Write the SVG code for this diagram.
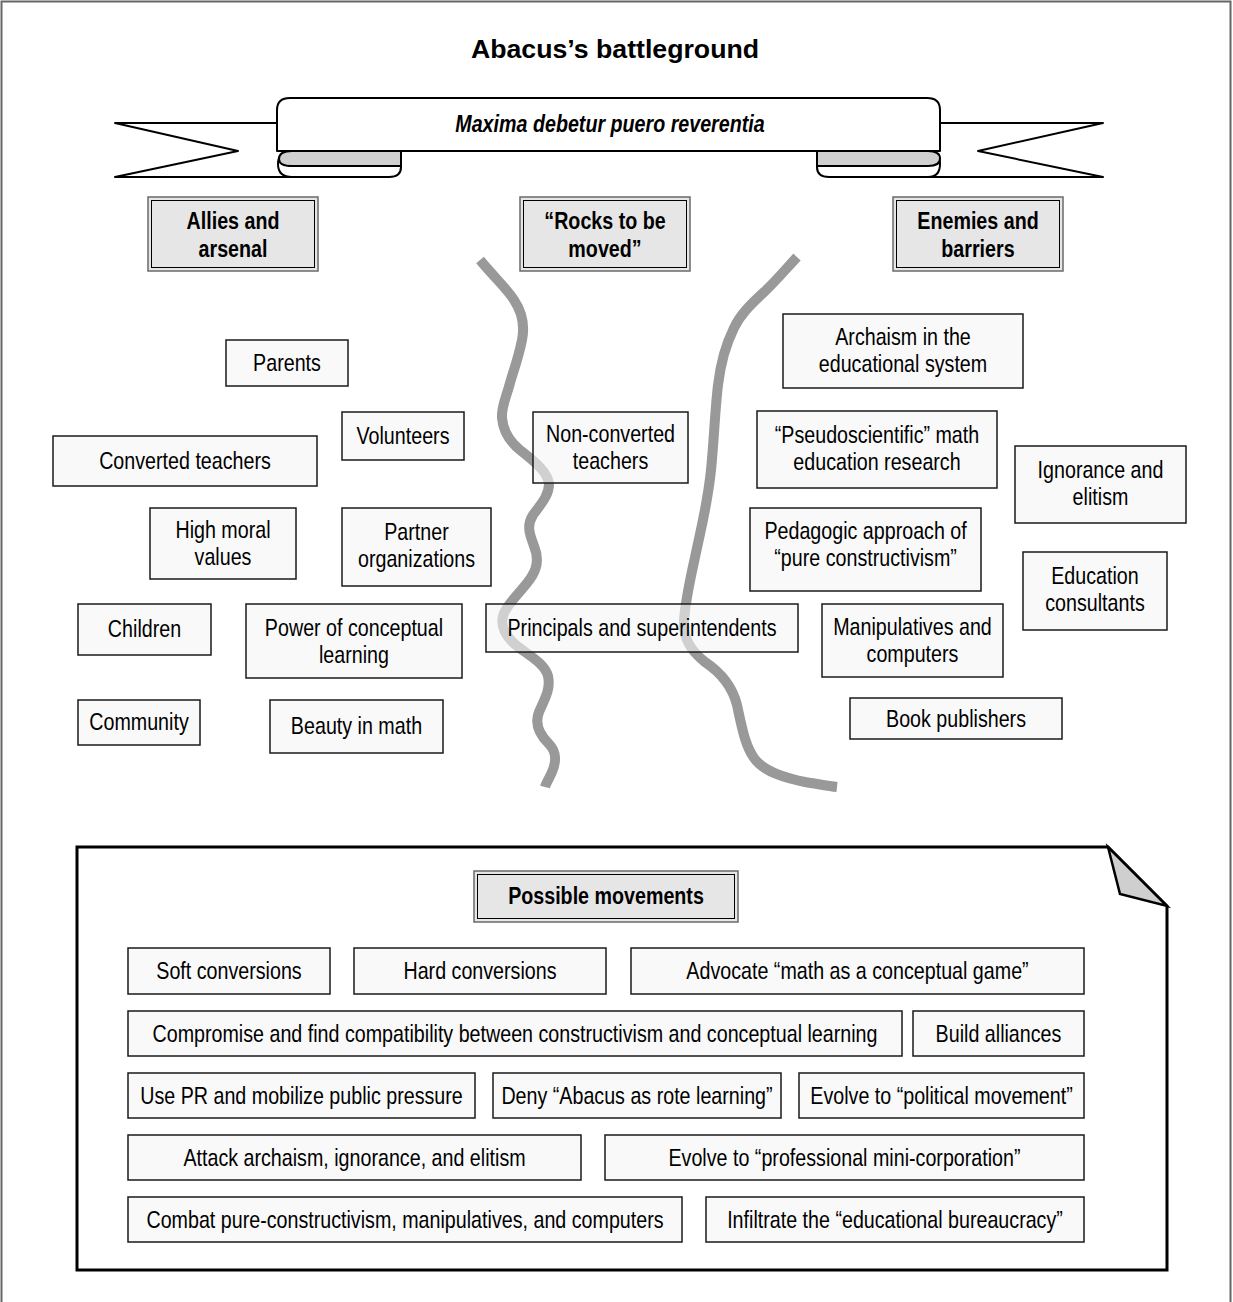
<svg xmlns="http://www.w3.org/2000/svg" width="1233" height="1302" viewBox="0 0 1233 1302">
<style>
.n{font-family:"Liberation Sans",Arial,sans-serif;font-size:24px;text-anchor:middle;fill:#000;transform-box:fill-box;transform-origin:center;transform:scaleX(0.82)}
.b{font-weight:bold}
.bx{fill:#f5f5f5;fill-opacity:0.6;stroke:#1a1a1a;stroke-width:1.5}
.ho{fill:#e6e6e6;stroke:#6a6a6a;stroke-width:1.5}
.hi{fill:none;stroke:#000;stroke-width:1}
.rib{fill:#fff;stroke:#000;stroke-width:2;stroke-linejoin:round}
.fold{fill:#d0d0d0;stroke:#000;stroke-width:2;stroke-linejoin:round}
.wave{fill:none;stroke:#999;stroke-width:10;stroke-linejoin:round}
</style>
<rect x="0" y="0" width="1233" height="1302" fill="#fff"/>
<rect x="1.5" y="1.5" width="1229" height="1320" fill="none" stroke="#666" stroke-width="2"/>

<text x="615" y="58" font-family="Liberation Sans, Arial, sans-serif" font-size="26.7" font-weight="bold" text-anchor="middle">Abacus’s battleground</text>

<g id="banner">
<polygon class="rib" points="115,123 300,123 300,177 115,177 238,151"/>
<polygon class="rib" points="1103,123 915,123 915,177 1103,177 978,151"/>
<path class="rib" d="M278,164 Q278,151 292,151 L401,151 L401,167 Q401,177 389,177 L292,177 Q278,177 278,164 Z"/>
<path class="fold" d="M279,159 Q279,151 292,151 L401,151 L401,166 L292,166 Q279,166 279,159 Z"/>
<path class="rib" d="M817,151 L928,151 Q940,151 940,164 Q940,177 928,177 L829,177 Q817,177 817,167 Z"/>
<path class="fold" d="M817,151 L928,151 Q940,151 940,158.5 Q940,166 928,166 L817,166 Z"/>
<path class="rib" d="M277,151 L277,110 Q277,98 290,98 L927,98 Q940,98 940,110 L940,151 Z"/>
<text class="n b" x="610" y="132.5" font-style="italic">Maxima debetur puero reverentia</text>
</g>

<g id="dividers">
<path class="wave" d="M480,260 C495,278 508,290 514,300 C522,312 525,325 522,340 C518,360 512,375 510,383 C506,398 501,408 502,418 C503,430 508,440 520,450 C535,462 548,472 549,484 C549,496 540,505 533,515 C526,526 530,535 534,546 C539,558 537,568 532,576 C525,588 510,600 504,613 C499,625 506,637 517,646 C530,656 545,664 548,676 C551,690 544,700 539,712 C535,722 538,733 549,744 C557,752 556,763 552,772 C549,779 546,783 545,787"/>
<path class="wave" d="M797,257 C785,270 775,282 763,293 C750,305 740,315 734,328 C726,344 721,360 718,385 C715,410 714,440 711,470 C708,500 703,520 697,548 C692,572 686,595 684,620 C683,638 690,650 705,662 C720,672 732,685 737,705 C742,728 745,745 754,758 C764,772 785,778 805,782 C818,784 828,786 837,787"/>
</g>

<g id="header-allies">
<rect class="ho" x="148" y="197" width="170" height="74"/>
<rect class="hi" x="151.5" y="200.5" width="163" height="67"/>
<text class="n b" x="233" y="229.5"><tspan x="233">Allies and</tspan><tspan x="233" dy="27.5">arsenal</tspan></text>
</g>
<g id="header-rocks">
<rect class="ho" x="520" y="197" width="170" height="74"/>
<rect class="hi" x="523.5" y="200.5" width="163" height="67"/>
<text class="n b" x="605" y="229.5"><tspan x="605">“Rocks to be</tspan><tspan x="605" dy="27.5">moved”</tspan></text>
</g>
<g id="header-enemies">
<rect class="ho" x="893" y="197" width="170" height="74"/>
<rect class="hi" x="896.5" y="200.5" width="163" height="67"/>
<text class="n b" x="978" y="229.5"><tspan x="978">Enemies and</tspan><tspan x="978" dy="27.5">barriers</tspan></text>
</g>

<g id="parents"><rect class="bx" x="226" y="340" width="122" height="46"/><text class="n" x="287" y="371">Parents</text></g>
<g id="volunteers"><rect class="bx" x="342" y="412" width="122" height="48"/><text class="n" x="403" y="444">Volunteers</text></g>
<g id="converted-teachers"><rect class="bx" x="53" y="436" width="264" height="50"/><text class="n" x="185" y="469">Converted teachers</text></g>
<g id="high-moral"><rect class="bx" x="150" y="508" width="146" height="71"/><text class="n" x="223" y="538"><tspan x="223">High moral</tspan><tspan x="223" dy="27.5">values</tspan></text></g>
<g id="partner-orgs"><rect class="bx" x="342" y="508" width="149" height="78"/><text class="n" x="416.5" y="540"><tspan x="416.5">Partner</tspan><tspan x="416.5" dy="27.5">organizations</tspan></text></g>
<g id="children"><rect class="bx" x="78" y="604" width="133" height="51"/><text class="n" x="144.5" y="637.5">Children</text></g>
<g id="power-conceptual"><rect class="bx" x="246" y="604" width="216" height="74"/><text class="n" x="354" y="636"><tspan x="354">Power of conceptual</tspan><tspan x="354" dy="27.5">learning</tspan></text></g>
<g id="community"><rect class="bx" x="78" y="700" width="122" height="45"/><text class="n" x="139" y="730.5">Community</text></g>
<g id="beauty-math"><rect class="bx" x="270" y="700" width="173" height="53"/><text class="n" x="356.5" y="734.5">Beauty in math</text></g>

<g id="non-converted"><rect class="bx" x="533" y="412" width="155" height="71"/><text class="n" x="610.5" y="442"><tspan x="610.5">Non-converted</tspan><tspan x="610.5" dy="27.5">teachers</tspan></text></g>
<g id="principals"><rect class="bx" x="486" y="604" width="312" height="48"/><text class="n" x="642" y="636">Principals and superintendents</text></g>

<g id="archaism"><rect class="bx" x="783" y="314" width="240" height="74"/><text class="n" x="903" y="345"><tspan x="903">Archaism in the</tspan><tspan x="903" dy="27.5">educational system</tspan></text></g>
<g id="pseudoscientific"><rect class="bx" x="757" y="411" width="240" height="77"/><text class="n" x="877" y="443"><tspan x="877">“Pseudoscientific” math</tspan><tspan x="877" dy="27.5">education research</tspan></text></g>
<g id="ignorance"><rect class="bx" x="1015" y="446" width="171" height="77"/><text class="n" x="1100.5" y="478"><tspan x="1100.5">Ignorance and</tspan><tspan x="1100.5" dy="27.5">elitism</tspan></text></g>
<g id="pedagogic"><rect class="bx" x="750" y="508" width="231" height="83"/><text class="n" x="865.5" y="539"><tspan x="865.5">Pedagogic approach of</tspan><tspan x="865.5" dy="27.5">“pure constructivism”</tspan></text></g>
<g id="consultants"><rect class="bx" x="1023" y="552" width="144" height="78"/><text class="n" x="1095" y="584"><tspan x="1095">Education</tspan><tspan x="1095" dy="27.5">consultants</tspan></text></g>
<g id="manipulatives"><rect class="bx" x="822" y="604" width="181" height="73"/><text class="n" x="912.5" y="635"><tspan x="912.5">Manipulatives and</tspan><tspan x="912.5" dy="27.5">computers</tspan></text></g>
<g id="publishers"><rect class="bx" x="850" y="698" width="212" height="41"/><text class="n" x="956" y="727">Book publishers</text></g>

<g id="movements-note">
<path d="M77,847 L1108,847 L1167,906 L1167,1270 L77,1270 Z" fill="#fff" stroke="#000" stroke-width="3" stroke-linejoin="miter"/>
<path d="M1108,847 L1120,894 L1167,906 Z" fill="#cfcfcf" stroke="#000" stroke-width="2.5" stroke-linejoin="miter"/>
</g>
<g id="header-movements">
<rect class="ho" x="474" y="871" width="264" height="51"/>
<rect class="hi" x="477.5" y="874.5" width="257" height="44"/>
<text class="n b" x="606" y="904.5">Possible movements</text>
</g>

<g id="soft"><rect class="bx" x="128" y="948" width="202" height="46"/><text class="n" x="229" y="979.5">Soft conversions</text></g>
<g id="hard"><rect class="bx" x="354" y="948" width="252" height="46"/><text class="n" x="480" y="979.5">Hard conversions</text></g>
<g id="advocate"><rect class="bx" x="631" y="948" width="453" height="46"/><text class="n" x="857.5" y="979.5">Advocate “math as a conceptual game”</text></g>
<g id="compromise"><rect class="bx" x="128" y="1011" width="774" height="45"/><text class="n" x="515" y="1042">Compromise and find compatibility between constructivism and conceptual learning</text></g>
<g id="alliances"><rect class="bx" x="913" y="1011" width="171" height="45"/><text class="n" x="998.5" y="1042">Build alliances</text></g>
<g id="use-pr"><rect class="bx" x="128" y="1073" width="347" height="45"/><text class="n" x="301.5" y="1104">Use PR and mobilize public pressure</text></g>
<g id="deny"><rect class="bx" x="493" y="1073" width="288" height="45"/><text class="n" x="637" y="1104">Deny “Abacus as rote learning”</text></g>
<g id="political"><rect class="bx" x="799" y="1073" width="285" height="45"/><text class="n" x="941.5" y="1104">Evolve to “political movement”</text></g>
<g id="attack"><rect class="bx" x="128" y="1135" width="453" height="45"/><text class="n" x="354.5" y="1166">Attack archaism, ignorance, and elitism</text></g>
<g id="professional"><rect class="bx" x="605" y="1135" width="479" height="45"/><text class="n" x="844.5" y="1166">Evolve to “professional mini-corporation”</text></g>
<g id="combat"><rect class="bx" x="128" y="1197" width="554" height="45"/><text class="n" x="405" y="1228">Combat pure-constructivism, manipulatives, and computers</text></g>
<g id="infiltrate"><rect class="bx" x="706" y="1197" width="378" height="45"/><text class="n" x="895" y="1228">Infiltrate the “educational bureaucracy”</text></g>
</svg>
